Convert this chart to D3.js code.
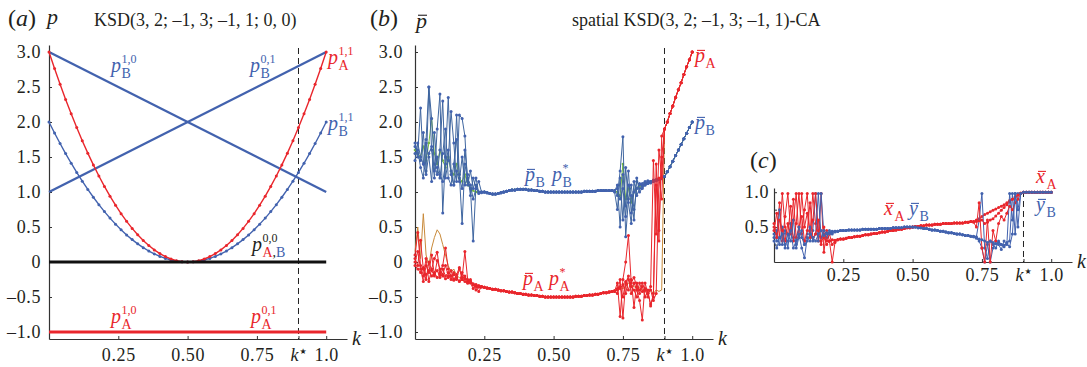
<!DOCTYPE html>
<html>
<head>
<meta charset="utf-8">
<script src="https://cdn.jsdelivr.net/npm/d3@7"></script>
<style>
  body { margin: 0; background: #fff; }
  svg { font-family: "Liberation Serif", "Times New Roman", "DejaVu Serif", serif; }
  svg text { fill: #231f20; }
</style>
</head>
<body>
<svg id="chart" width="1087" height="367"></svg>
<script>
const RED = "#e9262c", BLUE = "#4262ae", GREEN = "#74b843", ORANGE = "#c98a3a", INK = "#231f20";
const kStar = 0.9;
const kStep = 0.01;

// ---- panel (a) ----
const aStep = 0.02;
const pA11 = [3.0, 2.765, 2.539, 2.323, 2.117, 1.92, 1.733, 1.555, 1.387, 1.229, 1.08, 0.941, 0.811, 0.691, 0.581, 0.48, 0.389, 0.307, 0.235, 0.173, 0.12, 0.077, 0.043, 0.019, 0.005, 0,
  0.005, 0.019, 0.043, 0.077, 0.12, 0.173, 0.235, 0.307, 0.389, 0.48, 0.581, 0.691, 0.811, 0.941, 1.08, 1.229, 1.387, 1.555, 1.733, 1.92, 2.117, 2.323, 2.539, 2.765, 3.0];
const pB11 = [2.0, 1.843, 1.693, 1.549, 1.411, 1.28, 1.155, 1.037, 0.925, 0.819, 0.72, 0.627, 0.541, 0.461, 0.387, 0.32, 0.259, 0.205, 0.157, 0.115, 0.08, 0.051, 0.029, 0.013, 0.003, 0,
  0.003, 0.013, 0.029, 0.051, 0.08, 0.115, 0.157, 0.205, 0.259, 0.32, 0.387, 0.461, 0.541, 0.627, 0.72, 0.819, 0.925, 1.037, 1.155, 1.28, 1.411, 1.549, 1.693, 1.843, 2.0];
const kEnds = [0, 1];
const pB10 = [3.0, 1.0];
const pB01 = [1.0, 3.0];
const pAB00 = [0, 0];
const pA10 = [-1, -1];

// ---- panel (b): runs split in head (k from 0), mid (from 0.25), tail (from 0.72), end (from 0.90)
const bHead1 = [1.70, 1.55, 2.20, 1.40, 1.75, 2.50, 1.60, 1.20, 1.90, 2.40, 0.70, 1.50, 2.35, 1.30, 1.10, 2.10, 1.25, 0.55, 1.40, 1.15, 1.05, 0.30, 1.10, 1.00, 1.00];
const bHead2 = [1.65, 1.50, 1.45, 1.85, 1.30, 2.50, 2.05, 1.40, 1.25, 1.60, 2.30, 1.20, 1.45, 2.15, 1.70, 1.15, 2.10, 2.05, 1.80, 1.10, 1.30, 1.05, 1.20, 0.98, 1.00];
const bHead3 = [1.55, 1.60, 1.35, 1.20, 1.70, 1.50, 1.15, 1.85, 1.35, 1.20, 1.55, 1.90, 1.20, 1.10, 1.40, 1.75, 1.20, 1.05, 1.60, 1.20, 1.10, 0.90, 1.05, 1.15, 1.00];
const bHead4 = [1.45, 1.70, 1.50, 1.40, 1.25, 1.55, 1.65, 1.30, 1.50, 1.25, 1.15, 1.40, 1.60, 1.25, 1.10, 1.30, 1.15, 1.50, 1.10, 1.25, 0.95, 1.20, 1.05, 1.00, 0.99];
const gHead = [1.60, 1.55, 1.50, 1.65, 1.45, 1.70, 2.05, 1.55, 1.40, 1.60, 1.45, 1.35, 1.50, 1.30, 1.25, 1.40, 1.20, 1.15, 1.25, 1.10, 1.05, 1.02, 1.00, 1.00, 1.00];
const bMid = [1.00, 0.99, 0.98, 0.97, 0.97, 0.98, 0.99, 1.00, 1.01, 1.02, 1.03, 1.03, 1.04, 1.04, 1.04, 1.04, 1.03, 1.03, 1.02, 1.02,
  1.01, 1.01, 1.00, 1.00, 1.00, 1.00, 1.00, 1.00, 1.00, 1.00, 1.00, 1.00, 1.00, 1.00, 1.00, 1.00, 1.01, 1.01, 1.01, 1.01, 1.01, 1.02, 1.02, 1.02, 1.02, 1.02, 1.02];
const bTail1 = [1.02, 0.95, 1.30, 1.79, 0.36, 0.90, 1.10, 0.75, 1.05, 1.12, 1.10, 1.13, 1.14, 1.15, 1.16, 1.17, 1.18, 1.19];
const bTail2 = [1.00, 0.75, 1.20, 0.60, 1.35, 0.85, 0.55, 1.15, 0.95, 1.05, 1.08, 1.10, 1.12, 1.14, 1.15, 1.16, 1.18, 1.20];
const bTail3 = [1.01, 1.10, 0.50, 1.25, 0.80, 1.30, 0.70, 1.00, 1.15, 1.10, 1.12, 1.15, 1.16, 1.15, 1.17, 1.18, 1.19, 1.20];
const bTail4 = [1.02, 1.05, 0.90, 1.05, 0.65, 1.10, 0.95, 0.60, 1.20, 1.00, 1.05, 1.10, 1.12, 1.13, 1.15, 1.16, 1.18, 1.20];
const gTail = [1.02, 1.00, 0.95, 1.40, 0.90, 1.05, 0.85, 1.00, 1.05, 1.08, 1.10, 1.12, 1.13, 1.15, 1.16, 1.17, 1.18, 1.20];
const bEnd = [1.22, 1.29, 1.36, 1.44, 1.52, 1.60, 1.68, 1.76, 1.84, 1.92, 2.00];

const rHead1 = [0.10, 0.42, -0.05, -0.20, 0.05, -0.28, -0.10, 0.05, 0.14, -0.15, -0.05, 0.20, -0.10, -0.20, -0.15, -0.25, -0.10, -0.22, 0.15, -0.25, -0.30, -0.38, -0.32, -0.36, -0.35];
const rHead2 = [0.05, -0.05, 0.31, -0.10, -0.25, 0.00, -0.12, -0.20, 0.02, -0.10, -0.18, -0.05, -0.20, -0.12, -0.25, -0.18, -0.08, -0.25, -0.20, -0.28, -0.25, -0.32, -0.40, -0.34, -0.36];
const rHead3 = [0.00, 0.15, -0.10, -0.28, -0.05, -0.15, 0.10, -0.18, -0.12, -0.22, -0.10, -0.20, -0.15, -0.25, -0.18, -0.22, -0.28, -0.15, -0.24, -0.30, -0.27, -0.33, -0.35, -0.42, -0.35];
const rHead4 = [-0.05, -0.10, -0.15, -0.08, -0.18, -0.12, -0.20, -0.15, -0.22, -0.18, -0.20, -0.24, -0.22, -0.20, -0.26, -0.24, -0.27, -0.25, -0.28, -0.30, -0.29, -0.31, -0.33, -0.34, -0.35];
const oHead = [0.15, 0.50, 0.05, 0.69, 0.10, -0.05, 0.20, 0.35, 0.46, 0.40, 0.25, 0.10, -0.05, -0.15, -0.10, -0.20, -0.22, -0.25, -0.20, -0.28, -0.30, -0.32, -0.34, -0.35, -0.36];
const rMid = [-0.36, -0.37, -0.38, -0.39, -0.39, -0.40, -0.41, -0.41, -0.42, -0.43, -0.43, -0.44, -0.45, -0.45, -0.46, -0.46, -0.47, -0.47, -0.48, -0.48,
  -0.49, -0.49, -0.50, -0.50, -0.50, -0.50, -0.50, -0.50, -0.50, -0.50, -0.50, -0.50, -0.50, -0.49, -0.49, -0.49, -0.48, -0.48, -0.47, -0.47, -0.46, -0.46, -0.45, -0.44, -0.44, -0.43, -0.42];
const rTail1 = [-0.42, -0.30, -0.78, -0.25, 0.00, 0.38, -0.30, -0.22, -0.35, -0.45, -0.30, -0.40, -0.50, -0.35, 1.45, 0.40, 1.60, 1.20];
const rTail2 = [-0.41, -0.45, -0.25, -0.80, -0.30, -0.20, -0.45, -0.30, -0.40, -0.55, -0.83, -0.30, -0.45, -0.60, -0.50, 1.40, 0.30, 1.80];
const rTail3 = [-0.42, -0.38, -0.35, -0.50, -0.28, -0.40, -0.25, -0.65, -0.30, -0.40, -0.35, -0.50, -0.40, -0.63, -0.45, 1.10, 0.45, 1.50];
const rTail4 = [-0.41, -0.40, -0.38, -0.32, -0.45, -0.25, -0.35, -0.40, -0.50, -0.30, -0.42, -0.38, -0.45, -0.40, -0.55, -0.45, 1.20, 0.90];
const oTail = [-0.42, -0.40, -0.36, -0.38, -0.35, -0.30, -0.33, -0.35, -0.38, -0.36, -0.40, -0.38, -0.42, -0.40, -0.45, -0.40, -0.42, -0.40];
const rEnd = [1.90, 2.00, 2.12, 2.23, 2.35, 2.46, 2.56, 2.68, 2.79, 2.89, 3.00];

// ---- panel (c): head (k from 0), mid (from 0.23), tail (from 0.72), end (from 0.90)
const xHead1 = [0.55, 0.40, 0.85, 0.30, 0.65, 0.98, 0.45, 0.60, 0.98, 0.35, 0.98, 0.50, 0.70, 0.40, 0.98, 0.55, 0.30, 0.98, 0.14, 0.45, 0.30, 0.00, 0.28];
const xHead2 = [0.45, 0.70, 0.35, 0.98, 0.50, 0.40, 0.80, 0.30, 0.55, 0.98, 0.40, 0.75, 0.98, 0.35, 0.60, 0.98, 0.45, 0.25, 0.50, 0.30, 0.40, 0.25, 0.30];
const xHead3 = [0.50, 0.35, 0.60, 0.45, 0.30, 0.55, 0.40, 0.90, 0.35, 0.50, 0.65, 0.30, 0.45, 0.85, 0.35, 0.40, 0.60, 0.30, 0.35, 0.25, 0.30, 0.32, 0.31];
const yHead1 = [0.40, 0.30, 0.75, 0.25, 0.45, 0.20, 0.55, 0.35, 0.25, 0.40, 0.20, 0.06, 0.35, 0.30, 0.45, 0.98, 0.30, 0.98, 0.40, 0.35, 0.45, 0.40, 0.43];
const yHead2 = [0.35, 0.45, 0.25, 0.50, 0.20, 0.40, 0.30, 0.60, 0.20, 0.35, 0.45, 0.25, 0.40, 0.50, 0.30, 0.40, 0.98, 0.35, 0.45, 0.40, 0.42, 0.44, 0.44];
const yHead3 = [0.30, 0.20, 0.35, 0.40, 0.25, 0.30, 0.45, 0.20, 0.30, 0.50, 0.35, 0.25, 0.30, 0.40, 0.35, 0.30, 0.40, 0.45, 0.38, 0.42, 0.40, 0.43, 0.44];
const xMid = [0.32, 0.33, 0.33, 0.34, 0.35, 0.35, 0.36, 0.37, 0.37, 0.38, 0.39, 0.39, 0.40, 0.41, 0.41, 0.42, 0.43, 0.43, 0.44, 0.45, 0.45, 0.46, 0.47, 0.47, 0.48,
  0.49, 0.49, 0.50, 0.51, 0.51, 0.52, 0.52, 0.53, 0.53, 0.53, 0.54, 0.54, 0.54, 0.55, 0.55, 0.55, 0.55, 0.56, 0.56, 0.56, 0.56, 0.57, 0.57, 0.58];
const yMid = [0.44, 0.45, 0.45, 0.45, 0.46, 0.46, 0.46, 0.46, 0.46, 0.47, 0.47, 0.47, 0.47, 0.47, 0.47, 0.48, 0.48, 0.48, 0.48, 0.48, 0.49, 0.49, 0.49, 0.49, 0.50,
  0.50, 0.50, 0.50, 0.50, 0.49, 0.49, 0.48, 0.48, 0.47, 0.46, 0.46, 0.45, 0.44, 0.44, 0.43, 0.42, 0.42, 0.41, 0.40, 0.40, 0.39, 0.38, 0.38, 0.37];
const xTail1 = [0.58, 0.60, 0.62, 0.65, 0.68, 0.70, 0.72, 0.74, 0.76, 0.78, 0.80, 0.82, 0.85, 0.88, 0.90, 0.93, 0.96, 0.98];
const xTail2 = [0.58, 0.58, 0.59, 0.60, 0.55, 0.57, 0.60, 0.62, 0.66, 0.70, 0.74, 0.78, 0.82, 0.86, 0.90, 0.93, 0.96, 0.99];
const xTail3 = [0.57, 0.50, 0.85, 0.20, 0.00, 0.60, 0.00, 0.45, 0.30, 0.55, 0.65, 0.60, 0.70, 0.80, 0.75, 0.85, 0.90, 0.98];
const yTail1 = [0.37, 0.36, 0.60, 0.98, 0.20, 0.05, 0.30, 0.25, 0.20, 0.30, 0.25, 0.22, 0.28, 0.30, 0.98, 0.40, 0.98, 0.98];
const yTail2 = [0.36, 0.34, 0.30, 0.20, 0.00, 0.25, 0.00, 0.20, 0.30, 0.25, 0.18, 0.30, 0.25, 0.98, 0.60, 0.98, 0.50, 0.98];
const yTail3 = [0.36, 0.35, 0.33, 0.32, 0.30, 0.28, 0.30, 0.28, 0.26, 0.28, 0.25, 0.24, 0.26, 0.22, 0.40, 0.98, 0.75, 0.98];
const cEnd = [1, 1, 1, 1, 1, 1, 1, 1, 1, 1, 1];

// ticks
const yTicksAB = [-1, -0.5, 0, 0.5, 1, 1.5, 2, 2.5, 3];
const yTickTextAB = ["\u20131.0", "\u20130.5", "0", "0.5", "1.0", "1.5", "2.0", "2.5", "3.0"];
const yTicksC = [0.25, 0.5, 0.75, 1];
const yTickTextC = ["", "0.5", "", "1.0"];
const xTicks = [0.25, 0.5, 0.75, 1];
const xTickText = ["0.25", "0.50", "0.75", "1.0"];

const FONT = "'Liberation Serif', 'Times New Roman', 'DejaVu Serif', serif";
const TICK = 18;
const svg = d3.select("#chart");

function pts(k0, step, vals) {
  return vals.map((v, i) => [k0 + i * step, v]);
}

function run(head, mid, midStart, tail, end) {
  return [...pts(0, kStep, head), ...pts(midStart, kStep, mid), ...pts(0.72, kStep, tail), ...pts(kStar, kStep, end)];
}

function series(g, x, y, data, color, lw, r, dotColor) {
  g.append("path").datum(data)
    .attr("d", d3.line().x(d => x(d[0])).y(d => y(d[1])))
    .attr("fill", "none").attr("stroke", color).attr("stroke-width", lw)
    .attr("stroke-linejoin", "round");
  if (r) {
    g.selectAll(null).data(data).join("circle")
      .attr("cx", d => x(d[0])).attr("cy", d => y(d[1])).attr("r", r)
      .attr("fill", dotColor || color);
  }
}

function axes(g, x, y, yTicks, yText, yPad, xPad, y0) {
  const ya = g.append("g").attr("transform", `translate(${x(0)},0)`)
    .call(d3.axisLeft(y).tickValues(yTicks).tickSizeInner(-3).tickSizeOuter(0).tickPadding(yPad)
      .tickFormat((d, i) => yText[i]));
  const xa = g.append("g").attr("transform", `translate(0,${y(y0)})`)
    .call(d3.axisBottom(x).tickValues([...xTicks, kStar]).tickSizeInner(-3).tickSizeOuter(0).tickPadding(xPad)
      .tickFormat((d, i) => i < xTickText.length ? xTickText[i] : ""));
  [ya, xa].forEach(a => {
    a.attr("font-family", null).attr("font-size", null);
    a.selectAll("text").style("font-family", FONT).style("font-size", TICK + "px")
      .style("letter-spacing", "0.6px");
    a.select(".domain").attr("stroke", "#333").attr("stroke-width", 1.2);
    a.selectAll(".tick line").attr("stroke", "#333");
  });
  // k* tick label and axis name k
  const ty = y(y0) + xPad + TICK * 0.71;
  const ks = g.append("text").attr("x", x(kStar) - 8).attr("y", ty).style("font-size", TICK + "px");
  ks.append("tspan").attr("font-style", "italic").text("k");
  ks.append("tspan").style("font-family", "'DejaVu Sans'").style("font-size", "8px").attr("dx", 1).attr("dy", -7).text("\u2605");
  g.append("text").attr("x", x.range()[1] + 5).attr("y", y(y0) + 6)
    .style("font-size", "20px").attr("font-style", "italic").text("k");
  // dashed k* line
  g.append("line").attr("x1", x(kStar)).attr("x2", x(kStar))
    .attr("y1", y.range()[1] + 3).attr("y2", y(y0))
    .attr("stroke", "#222").attr("stroke-width", 1).attr("stroke-dasharray", "6,4");
}

// label like p^{sup}_{sub}; sub may be a list of [text, colour]
function mathLabel(g, x, y, o) {
  const size = o.size || 20;
  g.append("text").attr("x", x).attr("y", y).style("font-size", size + "px")
    .attr("font-style", "italic").style("fill", o.color).text(o.base);
  if (o.bar) {
    g.append("line").attr("x1", x + 2).attr("x2", x + size * 0.5)
      .attr("y1", y - size * 0.58).attr("y2", y - size * 0.58)
      .attr("stroke", o.color).attr("stroke-width", 1.1);
  }
  const dx = o.dx || size * 0.52;
  if (o.sup) {
    g.append("text").attr("x", x + dx).attr("y", y - size * 0.46).style("font-size", size * 0.6 + "px")
      .style("fill", o.supColor || o.color).text(o.sup);
  }
  if (o.sub) {
    const t = g.append("text").attr("x", x + dx).attr("y", y + size * 0.28).style("font-size", size * 0.7 + "px");
    const parts = typeof o.sub === "string" ? [[o.sub, o.color]] : o.sub;
    parts.forEach(p => t.append("tspan").style("fill", p[1]).text(p[0]));
  }
}

function panelTag(x, y, letter) {
  const t = svg.append("text").attr("x", x).attr("y", y).style("font-size", "24px");
  t.append("tspan").text("(");
  t.append("tspan").attr("font-style", "italic").text(letter);
  t.append("tspan").text(")");
}

// ================= panel (a) =================
{
  const g = svg.append("g");
  const x = d3.scaleLinear().domain([0, 1.075]).range([49, 347]);
  const y = d3.scaleLinear().domain([-1.1, 3.1]).range([339, 45]);
  axes(g, x, y, yTicksAB, yTickTextAB, 8, 9, -1.1);

  const line2 = v => v.map((d, i) => [kEnds[i], d]);
  series(g, x, y, line2(pB10), BLUE, 2.3);
  series(g, x, y, line2(pB01), BLUE, 2.3);
  series(g, x, y, pts(0, aStep, pB11), BLUE, 1.4, 1.5);
  series(g, x, y, pts(0, aStep, pA11), RED, 1.4, 1.5);
  series(g, x, y, line2(pAB00), "#111", 2.8);
  series(g, x, y, line2(pA10), RED, 3);

  panelTag(8, 26, "a");
  g.append("text").attr("x", 47).attr("y", 24).style("font-size", "22px").attr("font-style", "italic").text("p");
  g.append("text").attr("x", 94).attr("y", 26).style("font-size", "18px").text("KSD(3, 2; \u20131, 3; \u20131, 1; 0, 0)");

  mathLabel(g, 111, 72, { base: "p", sup: "1,0", sub: "B", color: BLUE });
  mathLabel(g, 250, 72, { base: "p", sup: "0,1", sub: "B", color: BLUE });
  mathLabel(g, 328, 64, { base: "p", sup: "1,1", sub: "A", color: RED });
  mathLabel(g, 328, 130, { base: "p", sup: "1,1", sub: "B", color: BLUE });
  mathLabel(g, 252, 251, { base: "p", sup: "0,0", sub: [["A", RED], [",", INK], ["B", BLUE]], color: INK });
  mathLabel(g, 111, 323, { base: "p", sup: "1,0", sub: "A", color: RED });
  mathLabel(g, 251, 323, { base: "p", sup: "0,1", sub: "A", color: RED });
}

// ================= panel (b) =================
{
  const g = svg.append("g");
  const x = d3.scaleLinear().domain([0, 1.075]).range([415, 713]);
  const y = d3.scaleLinear().domain([-1.1, 3.1]).range([339, 45]);
  axes(g, x, y, yTicksAB, yTickTextAB, 12, 9, -1.1);

  series(g, x, y, run(oHead, rMid, 0.25, oTail, rEnd), ORANGE, 1, 0);
  series(g, x, y, run(gHead, bMid, 0.25, gTail, bEnd), GREEN, 1, 1.3);
  [[bHead1, bTail1], [bHead2, bTail2], [bHead3, bTail3], [bHead4, bTail4]].forEach(([h, t]) => {
    series(g, x, y, run(h, bMid, 0.25, t, bEnd), "#3f66a0", 1, 1.5, BLUE);
  });
  [[rHead1, rTail1], [rHead2, rTail2], [rHead3, rTail3], [rHead4, rTail4]].forEach(([h, t]) => {
    series(g, x, y, run(h, rMid, 0.25, t, rEnd), RED, 1, 1.5);
  });

  panelTag(370, 26, "b");
  mathLabel(g, 416, 28, { base: "p", bar: true, color: INK, size: 22 });
  g.append("text").attr("x", 572).attr("y", 26).style("font-size", "18px").text("spatial KSD(3, 2; \u20131, 3; \u20131, 1)-CA");

  mathLabel(g, 695, 62, { base: "p", bar: true, sub: "A", color: RED });
  mathLabel(g, 695, 129, { base: "p", bar: true, sub: "B", color: BLUE });
  mathLabel(g, 525, 181, { base: "p", bar: true, sub: "B", color: BLUE });
  mathLabel(g, 552, 181, { base: "p", sup: "*", sub: "B", color: BLUE });
  mathLabel(g, 523, 285, { base: "p", bar: true, sub: "A", color: RED });
  mathLabel(g, 549, 285, { base: "p", sup: "*", sub: "A", color: RED });
}

// ================= panel (c) =================
{
  const g = svg.append("g");
  const x = d3.scaleLinear().domain([0, 1.075]).range([774, 1072]);
  const y = d3.scaleLinear().domain([0, 1.06]).range([262, 188]);
  axes(g, x, y, yTicksC, yTickTextC, 5, 6, 0);

  const runs = [
    [xHead1, xMid, xTail1, RED], [yHead1, yMid, yTail1, BLUE],
    [xHead2, xMid, xTail2, RED], [yHead2, yMid, yTail2, BLUE],
    [xHead3, xMid, xTail3, RED], [yHead3, yMid, yTail3, BLUE]
  ];
  runs.forEach(([h, m, t, c]) => series(g, x, y, run(h, m, 0.23, t, cEnd), c, 1, 1.5));

  panelTag(750, 168, "c");
  mathLabel(g, 884, 215, { base: "x", bar: true, sub: "A", color: RED });
  mathLabel(g, 909, 215, { base: "y", bar: true, sub: "B", color: BLUE });
  mathLabel(g, 1036, 183, { base: "x", bar: true, sub: "A", color: RED });
  mathLabel(g, 1036, 211, { base: "y", bar: true, sub: "B", color: BLUE });
}
</script>
</body>
</html>
